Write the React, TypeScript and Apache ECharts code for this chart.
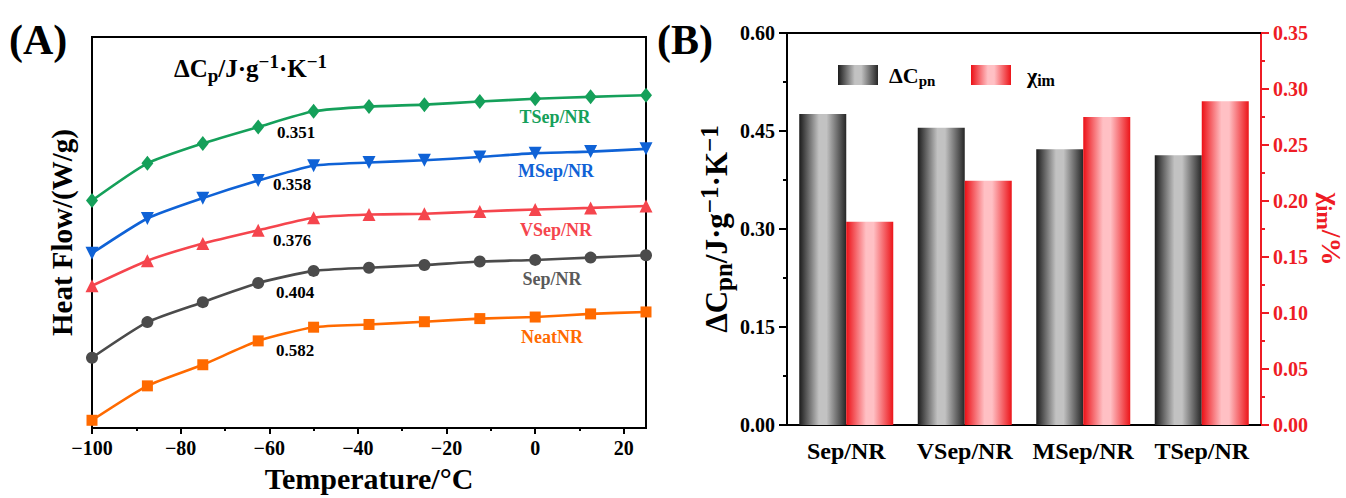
import React, { useEffect, useRef } from "react";
import * as echarts from "echarts";

// ---- Panel A: DSC heat-flow curves ----
const temperatures = [-100, -87.5, -75, -62.5, -50, -37.5, -25, -12.5, 0, 12.5, 25];
const neatNR = [0.2, 1.08, 1.62, 2.23, 2.58, 2.65, 2.72, 2.8, 2.84, 2.92, 2.97];
const sepNR = [1.8, 2.71, 3.22, 3.71, 4.02, 4.1, 4.17, 4.26, 4.3, 4.36, 4.42];
const vsepNR = [3.64, 4.28, 4.72, 5.06, 5.38, 5.46, 5.48, 5.54, 5.59, 5.63, 5.68];
const msepNR = [4.47, 5.36, 5.88, 6.33, 6.71, 6.79, 6.85, 6.93, 7.03, 7.07, 7.14];
const tsepNR = [5.82, 6.77, 7.28, 7.7, 8.1, 8.22, 8.27, 8.35, 8.42, 8.47, 8.51];
const curveNames = ["NeatNR", "Sep/NR", "VSep/NR", "MSep/NR", "TSep/NR"];
const curveValues = [neatNR, sepNR, vsepNR, msepNR, tsepNR];
const deltaCpLabels = ["0.582", "0.404", "0.376", "0.358", "0.351"];
const tempTicks = [-100, -80, -60, -40, -20, 0, 20];
const tempMinorTicks = [-90, -70, -50, -30, -10, 10];

// ---- Panel B: bar comparison ----
const barCategories = ["Sep/NR", "VSep/NR", "MSep/NR", "TSep/NR"];
const deltaCpn = [0.476, 0.455, 0.422, 0.413];
const chiIm = [0.1815, 0.218, 0.275, 0.289];

const FONT = '"Liberation Serif", "Times New Roman", Times, serif';
const RED_AXIS = "#ee1c25";

// styling of each curve, in the same order as curveNames
const curveStyles = [
  { color: "#ff6a00", symbol: "rect", size: 11, rotate: 0, labelColor: "#ff6a00" },
  { color: "#4b4b4b", symbol: "circle", size: 12, rotate: 0, labelColor: "#5a5a5a" },
  { color: "#f5454d", symbol: "triangle", size: 13, rotate: 0, labelColor: "#f5454d" },
  { color: "#0f62d6", symbol: "triangle", size: 13, rotate: 180, labelColor: "#0f62d6" },
  { color: "#15a05a", symbol: "diamond", size: [12, 15], rotate: 0, labelColor: "#15a05a" },
];
// pixel anchors for the in-plot annotations (curve names and ΔCp values)
const nameSpots = [
  [552, 337],
  [552, 279],
  [556, 230],
  [556, 171],
  [555, 117],
];
const valueSpots = [
  [276, 350],
  [276, 292],
  [273, 240],
  [273, 184],
  [277, 132],
];

function barGradient(edge: string, mid: string, edge2: string) {
  return new echarts.graphic.LinearGradient(0, 0, 1, 0, [
    { offset: 0, color: edge },
    { offset: 0.42, color: mid },
    { offset: 0.58, color: mid },
    { offset: 1, color: edge2 },
  ]);
}

const bold = (size: number, color = "#000") => ({
  fontFamily: FONT,
  fontWeight: "bold" as const,
  fontSize: size,
  color,
});

export default function App() {
  const ref = useRef<HTMLDivElement>(null);

  useEffect(() => {
    if (!ref.current) return;
    const chart = echarts.init(ref.current, undefined, { renderer: "svg" });

    const lineSeries = curveNames.map((name, i) => ({
      type: "line",
      name,
      xAxisIndex: 0,
      yAxisIndex: 0,
      data: temperatures.map((t, k) => [t, curveValues[i][k]]),
      smooth: 0.2,
      symbol: curveStyles[i].symbol,
      symbolSize: curveStyles[i].size,
      symbolRotate: curveStyles[i].rotate,
      showAllSymbol: true,
      lineStyle: { color: curveStyles[i].color, width: 2.6 },
      itemStyle: { color: curveStyles[i].color },
      emphasis: { disabled: true },
      z: 3,
    }));

    const subRich = (big: number, small: number, color = "#000") => ({
      m: { ...bold(big, color), lineHeight: big + 8 },
      s: { ...bold(small, color), verticalAlign: "bottom", lineHeight: small },
      u: { ...bold(small, color), verticalAlign: "top", lineHeight: small },
    });

    const option: any = {
      animation: false,
      backgroundColor: "#fff",
      grid: [
        {
          left: 92,
          top: 37,
          width: 554,
          height: 394,
          show: true,
          borderColor: "#000",
          borderWidth: 2,
          backgroundColor: "transparent",
        },
        { left: 787, top: 33, width: 480, height: 392 },
      ],
      xAxis: [
        {
          gridIndex: 0,
          type: "value",
          position: "bottom",
          min: -100,
          max: 25,
          axisLine: { onZero: false, lineStyle: { color: "#000", width: 2 } },
          axisTick: { customValues: tempTicks, length: 6, lineStyle: { width: 2, color: "#000" } },
          axisLabel: {
            customValues: tempTicks,
            formatter: (v: number) => String(v).replace("-", "\u2212"),
            ...bold(20),
            margin: 10,
          },
          splitLine: { show: false },
          name: "Temperature/\u00b0C",
          nameLocation: "middle",
          nameGap: 34,
          nameTextStyle: bold(30),
        },
        {
          gridIndex: 0,
          type: "value",
          position: "bottom",
          min: -100,
          max: 25,
          axisLine: { show: false, onZero: false },
          axisTick: { customValues: tempMinorTicks, length: 3, lineStyle: { width: 2, color: "#000" } },
          axisLabel: { show: false },
          splitLine: { show: false },
        },
        {
          gridIndex: 1,
          type: "category",
          position: "bottom",
          data: barCategories,
          axisLine: { onZero: false, lineStyle: { color: "#000", width: 2 } },
          axisTick: { show: false },
          axisLabel: { ...bold(24), margin: 14, interval: 0 },
        },
        {
          gridIndex: 1,
          type: "category",
          position: "top",
          data: barCategories,
          axisLine: { onZero: false, lineStyle: { color: "#000", width: 2 } },
          axisTick: { show: false },
          axisLabel: { show: false },
        },
      ],
      yAxis: [
        {
          gridIndex: 0,
          type: "value",
          position: "left",
          min: 0,
          max: 10,
          axisLine: { show: true, onZero: false, lineStyle: { color: "#000", width: 2 } },
          axisTick: { show: false },
          axisLabel: { show: false },
          splitLine: { show: false },
          name: "Heat Flow/(W/g)",
          nameLocation: "middle",
          nameGap: 16,
          nameRotate: 90,
          nameTextStyle: bold(29),
        },
        {
          gridIndex: 1,
          type: "value",
          position: "left",
          min: 0,
          max: 0.6,
          interval: 0.15,
          axisLine: { show: true, onZero: false, lineStyle: { color: "#000", width: 2 } },
          axisTick: { show: true, length: 8, lineStyle: { width: 2, color: "#000" } },
          minorTick: { show: true, splitNumber: 2, length: 4, lineStyle: { width: 2, color: "#000" } },
          axisLabel: { formatter: (v: number) => v.toFixed(2), ...bold(20), margin: 12 },
          splitLine: { show: false },
          name: "{m|\u0394C}{s|pn}{m|/J\u00b7g}{u|\u22121}{m|\u00b7K}{u|\u22121}",
          nameLocation: "middle",
          nameGap: 42,
          nameRotate: 90,
          nameTextStyle: { ...bold(31), rich: subRich(31, 25) },
        },
        {
          gridIndex: 1,
          type: "value",
          position: "right",
          min: 0,
          max: 0.35,
          interval: 0.05,
          axisLine: { show: true, onZero: false, lineStyle: { color: RED_AXIS, width: 2 } },
          axisTick: { show: true, length: 8, lineStyle: { width: 2, color: RED_AXIS } },
          minorTick: { show: true, splitNumber: 2, length: 4, lineStyle: { width: 2, color: RED_AXIS } },
          axisLabel: { formatter: (v: number) => v.toFixed(2), ...bold(20, RED_AXIS), margin: 12 },
          splitLine: { show: false },
          name: "{m|\u03c7}{s|im}{m|/%}",
          nameLocation: "middle",
          nameGap: 52,
          nameRotate: -90,
          nameTextStyle: { ...bold(28, RED_AXIS), rich: subRich(28, 22, RED_AXIS) },
        },
      ],
      legend: [
        {
          data: ["\u0394Cpn"],
          left: 833,
          top: 59,
          icon: "rect",
          itemWidth: 40,
          itemHeight: 20,
          selectedMode: false,
          formatter: () => "{g|}{m|\u0394C}{s|pn}",
          textStyle: {
            ...bold(22),
            rich: {
              g: { width: 6 },
              m: { ...bold(22), lineHeight: 26 },
              s: { ...bold(15), verticalAlign: "bottom", lineHeight: 18 },
            },
          },
        },
        {
          data: ["\u03c7im"],
          left: 966,
          top: 59,
          icon: "rect",
          itemWidth: 40,
          itemHeight: 20,
          selectedMode: false,
          formatter: () => "{g|}{m|\u03c7}{s|im}",
          textStyle: {
            ...bold(22),
            rich: {
              g: { width: 11 },
              m: { ...bold(22), lineHeight: 26 },
              s: { ...bold(16), verticalAlign: "bottom", lineHeight: 18 },
            },
          },
        },
      ],
      series: [
        ...lineSeries,
        {
          type: "bar",
          name: "\u0394Cpn",
          xAxisIndex: 2,
          yAxisIndex: 1,
          data: deltaCpn,
          barWidth: 47,
          barGap: "0%",
          itemStyle: { color: barGradient("#1c1c1c", "#c2c2c2", "#262626") },
          emphasis: { disabled: true },
        },
        {
          type: "bar",
          name: "\u03c7im",
          xAxisIndex: 2,
          yAxisIndex: 2,
          data: chiIm,
          barWidth: 47,
          barGap: "0%",
          itemStyle: { color: barGradient("#ec1016", "#ffc0c4", "#ec1419") },
          emphasis: { disabled: true },
        },
      ],
      graphic: [
        {
          type: "text",
          x: 9,
          y: 40,
          style: { text: "(A)", ...bold(42), fill: "#000", textVerticalAlign: "middle" },
        },
        {
          type: "text",
          x: 657,
          y: 40,
          style: { text: "(B)", ...bold(42), fill: "#000", textVerticalAlign: "middle" },
        },
        {
          type: "text",
          x: 174,
          y: 68,
          style: {
            text: "{m|\u0394C}{s|p}{m|/J\u00b7g}{u|\u22121}{m|\u00b7K}{u|\u22121}",
            ...bold(25),
            fill: "#000",
            textVerticalAlign: "middle",
            rich: subRich(25, 19),
          },
        },
        ...curveNames.map((name, i) => ({
          type: "text",
          x: nameSpots[i][0],
          y: nameSpots[i][1],
          style: {
            text: name,
            ...bold(18),
            fill: curveStyles[i].labelColor,
            textAlign: "center",
            textVerticalAlign: "middle",
          },
        })),
        ...deltaCpLabels.map((label, i) => ({
          type: "text",
          x: valueSpots[i][0],
          y: valueSpots[i][1],
          style: {
            text: label,
            ...bold(17),
            fill: "#000",
            textAlign: "left",
            textVerticalAlign: "middle",
          },
        })),
      ],
    };

    chart.setOption(option);
    return () => chart.dispose();
  }, []);

  return (
    <div
      ref={ref}
      style={{ position: "fixed", left: 0, top: 0, width: 1346, height: 498, background: "#fff" }}
    />
  );
}
